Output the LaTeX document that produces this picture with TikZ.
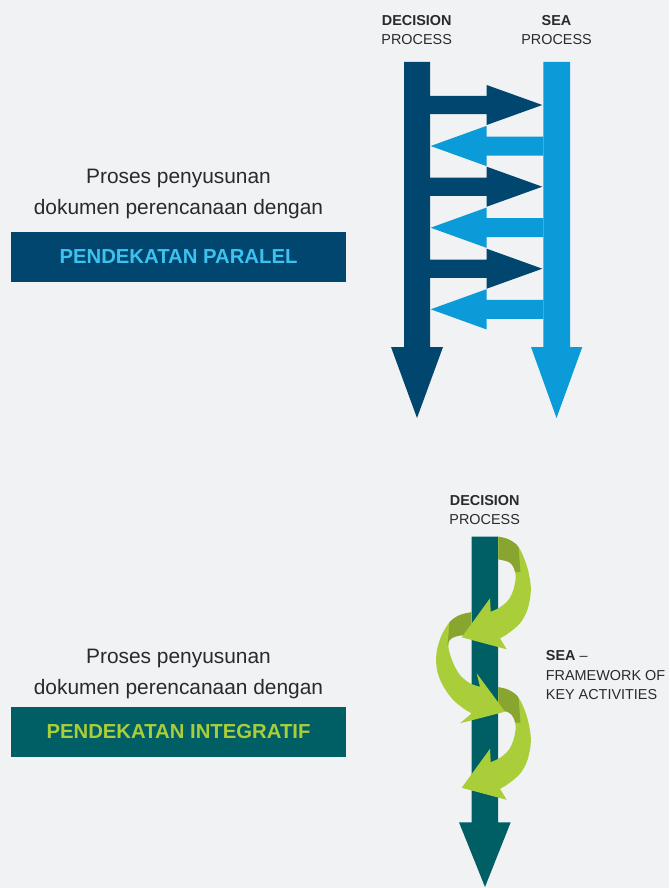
\documentclass[tikz,border=0pt]{standalone}
\usepackage{fontspec}
\setmainfont{Liberation Sans}
\definecolor{bgc}{HTML}{F1F2F4}
\definecolor{txtc}{HTML}{2A2A2A}
\definecolor{dkblue}{HTML}{00466E}
\definecolor{ltblue}{HTML}{0B9BD9}
\definecolor{paraltxt}{HTML}{3DC2EF}
\definecolor{tealc}{HTML}{005F65}
\definecolor{lgreen}{HTML}{A9CE3A}
\definecolor{dgreen}{HTML}{87A52F}
\newcommand\ribA{plot[smooth,tension=0.55] coordinates {(498.3,536.7) (508.3,539.3) (518.3,546.7) (526,563.3) (530,580) (530.7,593.3) (527.3,610) (520,623.3) (508.3,633.3) (500,638.3)} -- (506.7,649.3) -- (461.7,637.3) -- (490,598.3) -- plot[smooth,tension=0.55] coordinates {(490.7,611.7) (500,607.3) (508.3,600) (513.3,590) (515.7,576.7) (513.3,566.7) (508.3,561.7) (498.3,559.3)} -- cycle}
\newcommand\ribB{plot[smooth,tension=0.55] coordinates {(471.3,612.3) (460,615) (450,621.7) (441.7,635) (436.7,651.7) (436.7,668.3) (441.7,683.3) (451.7,698.3) (463.3,708.3) (471.7,713.3)} -- (460,723.3) -- (505,711.7) -- (476.7,673.3) -- plot[smooth,tension=0.55] coordinates {(480,686.7) (470,683.3) (460,675) (453.3,663.3) (449.3,651.7) (448.3,643) (452,638) (460,635.5) (471.3,634.8)} -- cycle}
\begin{document}
\begin{tikzpicture}[x=1pt,y=-1pt,
  small/.style={text=txtc,inner sep=0pt,anchor=base,font=\fontsize{14.4}{16}\selectfont},
  smallb/.style={small,font=\fontsize{14.4}{16}\selectfont\bfseries},
  big/.style={text=txtc,inner sep=0pt,anchor=base,font=\fontsize{20.9}{24}\selectfont},
  boxstyle/.style={inner sep=0pt,minimum width=335pt,minimum height=50pt,font=\fontsize{20.3}{24}\selectfont\bfseries}]
\fill[bgc] (0,0) rectangle (669,888);
\useasboundingbox (0,0) rectangle (669,888);

% ---------- parallel approach ----------
\node[big] (p1) at (178.5,183.3) {Proses penyusunan};
\node[big] (p2) at (178.5,214.3) {dokumen perencanaan dengan};
\node[boxstyle,fill=dkblue,text=paraltxt] (pbox) at (178.5,256.7) {PENDEKATAN PARALEL};

\node[smallb] (dec1) at (416.7,25.7) {DECISION};
\node[small] (proc1) at (416.7,44.3) {PROCESS};
\node[smallb] (sea1) at (556.5,25.7) {SEA};
\node[small] (proc2) at (556.5,44.3) {PROCESS};

\fill[dkblue] (404,62) -- (430,62) -- (430,347) -- (443,347) -- (417,418) -- (391,347) -- (404,347) -- cycle;
\fill[ltblue] (543.3,62) -- (570,62) -- (570,347) -- (582.3,347) -- (556.5,418) -- (531,347) -- (543.3,347) -- cycle;
\foreach \c in {105,186.7,268.7}{
  \fill[dkblue] (430,{\c-9.2}) -- (486.7,{\c-9.2}) -- (486.7,{\c-20}) -- (542.3,\c) -- (486.7,{\c+20}) -- (486.7,{\c+9.2}) -- (430,{\c+9.2}) -- cycle;
}
\foreach \c in {146,227.7,309.3}{
  \fill[ltblue] (543.3,{\c-9.5}) -- (486.7,{\c-9.5}) -- (486.7,{\c-20.2}) -- (430.7,\c) -- (486.7,{\c+20.2}) -- (486.7,{\c+9.5}) -- (543.3,{\c+9.5}) -- cycle;
}

% ---------- integrative approach ----------
\node[big] (q1) at (178.5,663.3) {Proses penyusunan};
\node[big] (q2) at (178.5,694.3) {dokumen perencanaan dengan};
\node[boxstyle,fill=tealc,text=lgreen] (qbox) at (178.5,732) {PENDEKATAN INTEGRATIF};

\node[smallb] (dec2) at (484.7,505.7) {DECISION};
\node[small] (proc3) at (484.7,524.3) {PROCESS};
\node[small,anchor=base west] (s1) at (545.7,660.7) {\textbf{SEA} –};
\node[small,anchor=base west] (s2) at (545.7,680) {FRAMEWORK OF};
\node[small,anchor=base west] (s3) at (545.7,699) {KEY ACTIVITIES};

\fill[tealc] (471.5,536.7) -- (498.2,536.7) -- (498.2,822.3) -- (510.7,822.3) -- (485,887) -- (459,822.3) -- (471.5,822.3) -- cycle;

% third ribbon (copy of first, shifted)
\begin{scope}[shift={(0,150.5)}]
  \fill[lgreen] \ribA;
  \begin{scope}
    \clip (498.3,530) -- (521,530) -- (518.5,547) -- (520.5,572) -- (498.3,572) -- cycle;
    \fill[dgreen] \ribA;
  \end{scope}
\end{scope}
% second ribbon
\fill[lgreen] \ribB;
\begin{scope}
  \clip (471.3,600) -- (451,600) -- (449.5,622) -- (447.5,645) -- (471.3,645) -- cycle;
  \fill[dgreen] \ribB;
\end{scope}
% first ribbon
\fill[lgreen] \ribA;
\begin{scope}
  \clip (498.3,530) -- (521,530) -- (518.5,547) -- (520.5,572) -- (498.3,572) -- cycle;
  \fill[dgreen] \ribA;
\end{scope}
\end{tikzpicture}
\end{document}
